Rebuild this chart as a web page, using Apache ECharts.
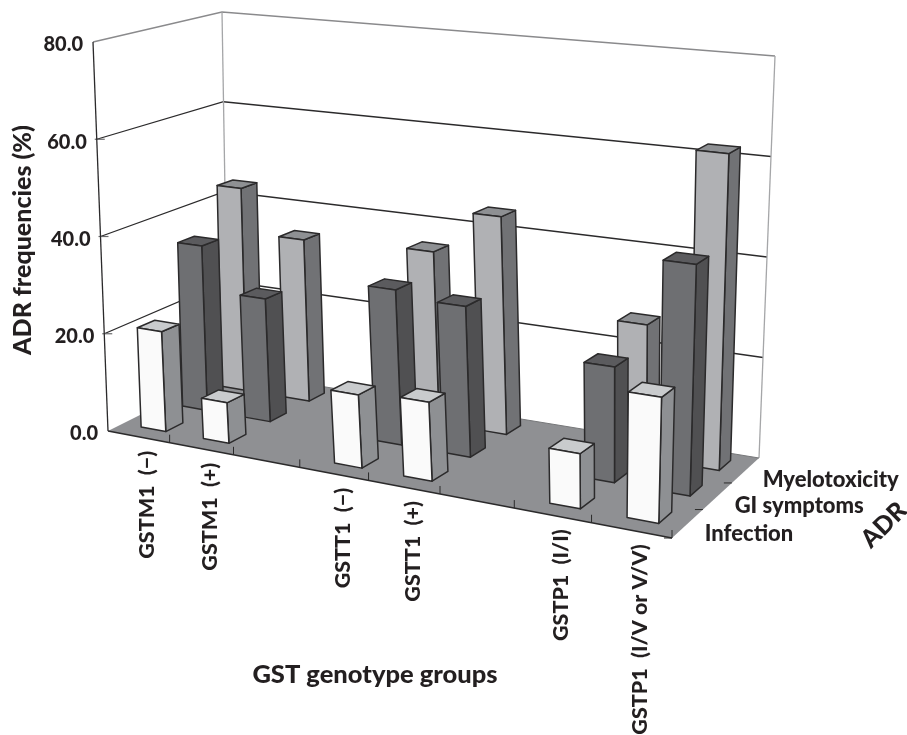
<!DOCTYPE html>
<html>
<head>
<meta charset="utf-8">
<style type="text/css">
  html, body { margin: 0; padding: 0; background: #fff; }
  #chart { width: 907px; height: 735px; }
</style>
<script src="https://cdn.jsdelivr.net/npm/echarts@6/dist/echarts.min.js"></script>
</head>
<body>
<div id="chart"></div>
<script type="text/javascript">
var categories = ['GSTM1  (\u2212)', 'GSTM1  (+)', '', 'GSTT1  (\u2212)', 'GSTT1  (+)', '', 'GSTP1  (I/I)', 'GSTP1  (I/V or V/V)'];
var adrRows = ['Infection', 'GI symptoms', 'Myelotoxicity'];
var yTicks = [0, 20, 40, 60, 80];
var infection = [20.5, 8.2, null, 14.4, 15.3, null, 10.4, 23.5];
var giSymptoms = [34.7, 25.5, null, 31.3, 30, null, 22.4, 44.3];
var myelotoxicity = [43.8, 34.4, null, 35.5, 44.5, null, 26.5, 62.2];

var FONT = 'Lato, "Open Sans", sans-serif';
var TEXT = '#231f20';
var EDGE = '#2b2a2b';

// corners of the box on screen: front-left, front-right, back-right, back-left
var floorQuad = [[108, 431], [672, 538], [759, 458], [228, 371]];
var topQuad = [[93, 42], [685, 103], [775, 56], [222, 12]];

function homography(q) {
  var dx1 = q[1][0] - q[2][0], dx2 = q[3][0] - q[2][0], sx = q[0][0] - q[1][0] + q[2][0] - q[3][0];
  var dy1 = q[1][1] - q[2][1], dy2 = q[3][1] - q[2][1], sy = q[0][1] - q[1][1] + q[2][1] - q[3][1];
  var den = dx1 * dy2 - dx2 * dy1;
  var g = (sx * dy2 - dx2 * sy) / den, h = (dx1 * sy - sx * dy1) / den;
  var a = q[1][0] - q[0][0] + g * q[1][0], b = q[3][0] - q[0][0] + h * q[3][0];
  var d = q[1][1] - q[0][1] + g * q[1][1], e = q[3][1] - q[0][1] + h * q[3][1];
  return function (u, v) {
    var w = g * u + h * v + 1;
    return [(a * u + b * v + q[0][0]) / w, (d * u + e * v + q[0][1]) / w];
  };
}
var floorMap = homography(floorQuad);
var topMap = homography(topQuad);

// u along the groups, v into the depth, t = share of the value axis (all 0..1)
function project(u, v, t) {
  // a bit more foreshortening along the groups, stronger towards the back
  var k = 0.016 + 0.055 * v;
  u = u * (1 + k) / (1 + k * u);
  var p = floorMap(u, v), q = topMap(u, v);
  return [p[0] + (q[0] - p[0]) * t, p[1] + (q[1] - p[1]) * t];
}

function rowsOf(values) {
  var out = [];
  values.forEach(function (val, i) {
    if (val !== null) { out.push([i, val]); }
  });
  return out;
}

function line(points, color, width) {
  return { type: 'polyline', shape: { points: points }, style: { stroke: color, lineWidth: width, fill: null } };
}

function barSeries(name, rowIdx, values, colors) {
  return {
    name: name,
    type: 'custom',
    coordinateSystem: 'cartesian2d',
    silent: true,
    encode: { x: 0, y: 1 },
    data: rowsOf(values),
    renderItem: function (params, api) {
      var cs = params.coordSys;
      var pt = api.coord([api.value(0), api.value(1)]);
      var bandW = api.size([1, 0])[0] / cs.width;
      var uc = (pt[0] - cs.x) / cs.width;
      var t = (cs.y + cs.height - pt[1]) / cs.height;
      var u0 = uc - bandW * 0.2, u1 = uc + bandW * 0.2;
      var v0 = rowIdx / adrRows.length + 0.115, v1 = v0 + 0.135;
      function face(pts, fill) {
        return {
          type: 'polygon',
          shape: { points: pts },
          style: { fill: fill, stroke: EDGE, lineWidth: 1.5, lineJoin: 'round' }
        };
      }
      return {
        type: 'group',
        children: [
          face([project(u1, v0, 0), project(u1, v1, 0), project(u1, v1, t), project(u1, v0, t)], colors.side),
          face([project(u0, v0, t), project(u1, v0, t), project(u1, v1, t), project(u0, v1, t)], colors.top),
          face([project(u0, v0, 0), project(u1, v0, 0), project(u1, v0, t), project(u0, v0, t)], colors.front)
        ]
      };
    }
  };
}

// floor, walls, gridlines and ticks
var boxSeries = {
  type: 'custom',
  coordinateSystem: 'cartesian2d',
  silent: true,
  z: 1,
  data: [[0, 0]],
  renderItem: function (params, api) {
    var kids = [];
    kids.push({
      type: 'polygon',
      shape: { points: floorQuad },
      style: { fill: '#8f9093' }
    });
    yTicks.forEach(function (tick) {
      if (tick === 0) { return; }
      var t = tick / 80;
      var color = tick === 80 ? '#8a8a8c' : EDGE;
      kids.push(line([project(0, 0, t), project(0, 1, t), project(1, 1, t)], color, 1.3));
      var a = project(0, 0, t);
      if (tick !== 80) { kids.push(line([[a[0] - 2, a[1]], [a[0] + 8, a[1]]], '#6a6a6c', 1.2)); }
    });
    kids.push(line([project(0, 1, 0), project(0, 1, 1)], '#a5a6a8', 1.3));
    kids.push(line([project(1, 1, 0), project(1, 1, 1)], '#a5a6a8', 1.3));
    kids.push(line([project(0, 0, 0), project(0, 0, 1)], EDGE, 1.3));
    kids.push(line([project(0, 1, 0), project(1, 1, 0)], '#77787a', 1));
    kids.push(line([project(0, 0, 0), project(1, 0, 0)], EDGE, 1.6));
    categories.forEach(function (c, i) {
      var p = project((i + 1) / categories.length, 0, 0);
      kids.push(line([p, [p[0], p[1] - 8]], EDGE, 1));
    });
    adrRows.forEach(function (r, i) {
      var p = project(1, i / adrRows.length, 0);
      kids.push(line([[p[0] - 8, p[1]], p], EDGE, 1));
    });
    return { type: 'group', children: kids };
  }
};

var labelSeries = {
  type: 'custom',
  coordinateSystem: 'cartesian2d',
  silent: true,
  z: 5,
  data: categories.map(function (c, i) { return [i, 0]; }),
  renderItem: function (params, api) {
    var i = api.value(0);
    if (!categories[i]) { return null; }
    var p = project((i + 0.5) / categories.length, 0, 0);
    return {
      type: 'text',
      x: p[0] + 9,
      y: p[1] + 14,
      rotation: Math.PI / 2,
      style: { text: categories[i], font: '900 21.5px ' + FONT, fill: TEXT, align: 'right', verticalAlign: 'middle' }
    };
  }
};

var yLabelSeries = {
  type: 'custom',
  coordinateSystem: 'cartesian2d',
  silent: true,
  z: 5,
  data: yTicks.map(function (t) { return [0, t]; }),
  renderItem: function (params, api) {
    var p = project(0, 0, api.value(1) / 80);
    return {
      type: 'text',
      x: p[0] - 10,
      y: p[1] + 3,
      style: { text: api.value(1).toFixed(1), font: '900 20px ' + FONT, fill: TEXT, align: 'right', verticalAlign: 'middle' }
    };
  }
};

var rowLabelSeries = {
  type: 'custom',
  coordinateSystem: 'cartesian2d',
  silent: true,
  z: 5,
  data: adrRows.map(function (r, i) { return [i, 0]; }),
  renderItem: function (params, api) {
    var i = api.value(0);
    var p = project(1, (i + 0.5) / adrRows.length, 0);
    return {
      type: 'text',
      x: p[0] + 17,
      y: p[1] + 10,
      style: { text: adrRows[i], font: '900 22px ' + FONT, fill: TEXT, align: 'left', verticalAlign: 'middle' }
    };
  }
};

var chart = echarts.init(document.getElementById('chart'));
chart.setOption({
  animation: false,
  backgroundColor: '#fff',
  grid: { left: 0, right: 0, top: 0, bottom: 0 },
  xAxis: { type: 'category', data: categories, show: false },
  yAxis: { type: 'value', min: 0, max: 80, interval: 20, show: false },
  graphic: [
    { type: 'text', x: 23, y: 240, rotation: Math.PI / 2, style: { text: 'ADR frequencies (%)', font: '900 25px ' + FONT, fill: TEXT, align: 'center', verticalAlign: 'middle' } },
    { type: 'text', x: 375, y: 675, style: { text: 'GST genotype groups', font: '900 25.5px ' + FONT, fill: TEXT, align: 'center', verticalAlign: 'middle' } },
    { type: 'text', x: 884, y: 525, rotation: Math.PI / 4, style: { text: 'ADR', font: '900 25px ' + FONT, fill: TEXT, align: 'center', verticalAlign: 'middle' } }
  ],
  series: [
    boxSeries,
    barSeries('Myelotoxicity', 2, myelotoxicity, { front: '#b0b1b4', side: '#717275', top: '#8e9093' }),
    barSeries('GI symptoms', 1, giSymptoms, { front: '#6e6f72', side: '#505052', top: '#5b5b5e' }),
    barSeries('Infection', 0, infection, { front: '#fafafa', side: '#8e9093', top: '#c9cbcd' }),
    labelSeries,
    yLabelSeries,
    rowLabelSeries
  ]
});
</script>
</body>
</html>
